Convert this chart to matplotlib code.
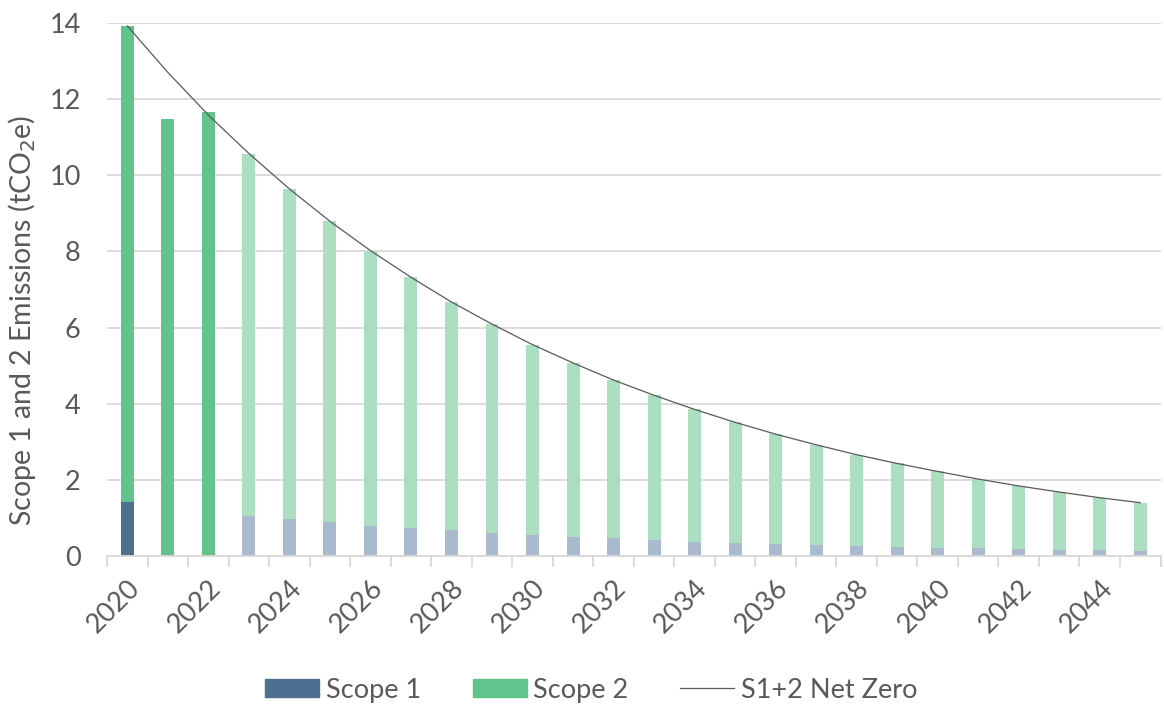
import matplotlib.pyplot as plt
import numpy as np
from matplotlib.patches import Patch
from matplotlib.lines import Line2D

years = list(range(2020, 2046))
scope1 = [1.42, 0.0, 0.0, 1.06, 0.96, 0.88, 0.80, 0.73, 0.67, 0.61,
          0.55, 0.51, 0.46, 0.42, 0.38, 0.35, 0.32, 0.29, 0.27, 0.24,
          0.22, 0.20, 0.18, 0.17, 0.15, 0.14]
total = [13.92, 11.48, 11.66, 10.57, 9.64, 8.79, 8.02, 7.32, 6.67, 6.09,
         5.55, 5.07, 4.62, 4.22, 3.85, 3.51, 3.20, 2.92, 2.66, 2.43,
         2.22, 2.02, 1.84, 1.68, 1.53, 1.40]
net_zero = [13.92, 12.70, 11.58, 10.57, 9.64, 8.79, 8.02, 7.32, 6.67, 6.09,
            5.55, 5.07, 4.62, 4.22, 3.85, 3.51, 3.20, 2.92, 2.66, 2.43,
            2.22, 2.02, 1.84, 1.68, 1.53, 1.40]
n_actual = 3  # 2020-2022 are actuals, rest forecast

scope2 = [t - s for t, s in zip(total, scope1)]

c_s1 = '#4f6f91'
c_s2 = '#62c38c'
c_s1_f = '#a9bace'
c_s2_f = '#acdfc1'
grey = '#595959'

plt.rcParams['font.family'] = ['Lato', 'DejaVu Sans']

fig = plt.figure(figsize=(11.64, 7.07), dpi=100)
ax = fig.add_axes([0.092, 0.2136, 0.905, 0.754])

x = np.arange(len(years))
col1 = [c_s1 if i < n_actual else c_s1_f for i in x]
col2 = [c_s2 if i < n_actual else c_s2_f for i in x]
w = 0.32
ax.bar(x, scope1, width=w, color=col1, zorder=2)
ax.bar(x, scope2, width=w, bottom=scope1, color=col2, zorder=2)
ax.plot(x, net_zero, color=grey, lw=0.9, zorder=3)

ax.set_xlim(-0.5, len(years) - 0.5)
ax.set_ylim(0, 14)
ax.set_yticks(range(0, 15, 2))
ax.grid(axis='y', color='#d9d9d9', lw=1.3, zorder=0)
ax.tick_params(axis='y', length=0, labelsize=19.5, labelcolor=grey, pad=19)

for s in ['top', 'right', 'left']:
    ax.spines[s].set_visible(False)
ax.spines['bottom'].set_color('#d9d9d9')
ax.spines['bottom'].set_linewidth(1.3)

# ticks at category boundaries, labels every 2 years
ax.set_xticks(np.arange(-0.5, len(years), 1), minor=True)
ax.tick_params(axis='x', which='minor', length=8, color='#d9d9d9', width=1.3)
ax.set_xticks(x[::2])
ax.set_xticklabels([str(y) for y in years[::2]], rotation=45, ha='right',
                   rotation_mode='anchor')
ax.tick_params(axis='x', which='major', length=0, labelsize=19.5,
               labelcolor=grey, pad=14)

ax.set_ylabel('Scope 1 and 2 Emissions (tCO$_2$e)', fontsize=20.5, color=grey)
ax.yaxis.set_label_coords(-0.066, 0.443)

handles = [Patch(color=c_s1), Patch(color=c_s2),
           Line2D([0], [0], color=grey, lw=0.9)]
fig.legend(handles, ['Scope 1', 'Scope 2', 'S1+2 Net Zero'], loc='center',
           bbox_to_anchor=(0.508, 0.024), ncol=3, frameon=False, fontsize=19.5,
           labelcolor=grey, handlelength=2.0, handleheight=0.6,
           handletextpad=0.25, columnspacing=1.9, borderpad=0)

fig.savefig('out.png', dpi=100)
